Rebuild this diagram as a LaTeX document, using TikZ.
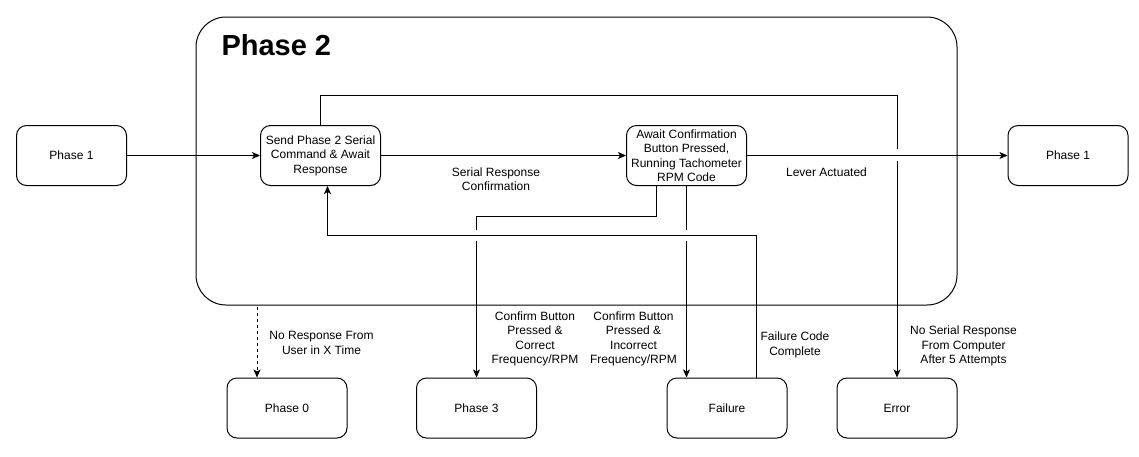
\documentclass[tikz,border=0pt]{standalone}
\usepackage{fontspec}
\setmainfont{Liberation Sans}
\usetikzlibrary{arrows.meta,positioning}

\begin{document}
\begin{tikzpicture}[x=1pt,y=1pt,line width=1pt,
  >={Stealth[length=8pt,width=7pt,inset=2pt]},
  state/.style={draw=black,rounded corners=10pt,minimum width=120pt,minimum height=60pt,
    align=center,inner sep=1pt,font=\fontsize{12}{14.5}\selectfont},
  lbl/.style={align=center,inner sep=0pt,font=\fontsize{12}{14.5}\selectfont}]
\useasboundingbox (0,0) rectangle (1139,-456);
% phase 2 frame
\draw [black,rounded corners=30pt] (196,-17) rectangle (957,-305);
\draw (221,-55) node [anchor=base west,inner sep=0pt,font=\fontsize{29}{34}\selectfont\bfseries] (title) {Phase 2};
% states
\draw (71.5,-155.5) node [state,minimum width=110pt] (phaseA) {Phase 1};
\draw (320.5,-155.5) node [state] (send) {Send Phase 2 Serial\\Command \& Await\\Response};
\draw (686.5,-155.5) node [state] (await) {Await Confirmation\\Button Pressed,\\Running Tachometer\\RPM Code};
\draw (1068,-155.5) node [state] (phaseB) {Phase 1};
\draw (287,-408) node [state] (phaseZ) {Phase 0};
\draw (476.5,-408) node [state] (phaseC) {Phase 3};
\draw (727,-408) node [state] (fail) {Failure};
\draw (897,-408) node [state] (err) {Error};
% bends and line jumps
\coordinate (errBend) at (897,-95);
\coordinate (errJumpA) at (897,-149);
\coordinate (errJumpB) at (897,-161);
\coordinate (okBend) at (656,-216);
\coordinate (okJumpA) at (476.5,-230);
\coordinate (okJumpB) at (476.5,-241);
\coordinate (badJumpA) at (686.5,-230);
\coordinate (badJumpB) at (686.5,-241);
\coordinate (retBend) at (327.5,-235.5);
\coordinate (timeout) at (257,-307);
% connectors
\draw [black,->] (phaseA) -- (send);
\draw [black,->] (send) -- (await);
\draw [black,->] (await) -- (phaseB);
\draw [black] (send.north) |- (errBend) -- (errJumpA);
\draw [black,->] (errJumpB) -- (err.north);
\draw [black] ([xshift=-30.5pt]await.south) |- (okBend) -| (okJumpA);
\draw [black,->] (okJumpB) -- (phaseC.north);
\draw [black] (await.south) -- (badJumpA);
\draw [black,->] (badJumpB) -- (badJumpB |- fail.north);
\draw [black,->] ([xshift=29pt]fail.north) |- (retBend) -- ([xshift=7pt]send.south);
\draw [black,->,dash pattern=on 3pt off 3pt] (timeout) -- (timeout |- phaseZ.north);
% labels
\draw (496,-179) node [lbl] {Serial Response\\Confirmation};
\draw (826.5,-172.5) node [lbl] {Lever Actuated};
\draw (321.5,-343) node [lbl] {No Response From\\User in X Time};
\draw (535,-339) node [lbl] {Confirm Button\\Pressed \&\\Correct\\Frequency/RPM};
\draw (633.5,-339) node [lbl] {Confirm Button\\Pressed \&\\Incorrect\\Frequency/RPM};
\draw (795,-345) node [lbl] {Failure Code\\Complete};
\draw (963.5,-346) node [lbl] {No Serial Response\\From Computer\\After 5 Attempts};
\end{tikzpicture}
\end{document}
